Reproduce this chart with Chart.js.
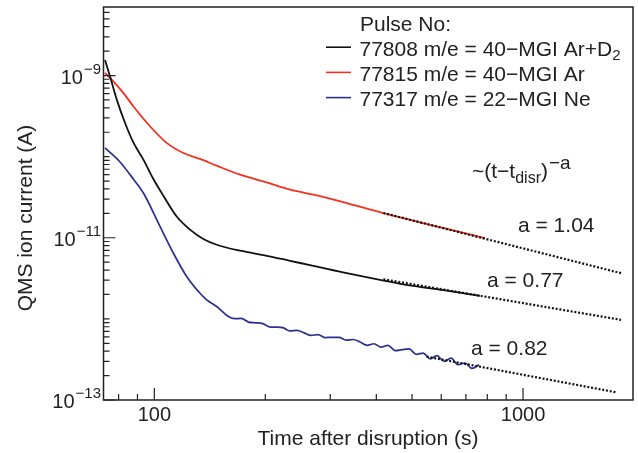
<!DOCTYPE html>
<html>
<head>
<meta charset="utf-8">
<script src="https://cdn.jsdelivr.net/npm/chart.js@4.4.0/dist/chart.umd.min.js"></script>
<style>
  html, body { margin: 0; padding: 0; background: #fff; }
  #wrap { width: 638px; height: 453px; }
</style>
</head>
<body>
<div id="wrap"><canvas id="qms" width="638" height="453"></canvas></div>
<script>
// --- data (time in s, current in A) ---
const pulses = ['77808', '77815', '77317'];
const seriesNames = ['77808 m/e = 40\u2212MGI Ar+D', '77815 m/e = 40\u2212MGI Ar', '77317 m/e = 22\u2212MGI Ne'];

const arD2Time = [73.5, 75.8, 79.1, 83.3, 87.7, 93.4, 99.4, 105.8, 115.0, 125.0, 135.8, 147.6, 170.8, 201.8, 233.3, 270.0, 332.6, 409.4, 504.2, 621.0, 764.4];
const arD2Curr = [1.55e-9, 9.8e-10, 5.05e-10, 2.6e-10, 1.5e-10, 9.2e-11, 5.3e-11, 3.3e-11, 1.83e-11, 1.26e-11, 9.64e-12, 8.2e-12, 6.92e-12, 6.0e-12, 5.2e-12, 4.51e-12, 3.66e-12, 3.03e-12, 2.55e-12, 2.23e-12, 1.92e-12];

const arTime = [73.5, 77.4, 82.4, 87.7, 97.3, 108.0, 119.9, 133.0, 147.6, 170.8, 201.8, 233.3, 270.0, 332.6, 417.9, 788.8];
const arCurr = [1.08e-9, 8.5e-10, 6.12e-10, 4.18e-10, 2.37e-10, 1.48e-10, 1.11e-10, 9.37e-11, 7.74e-11, 6.0e-11, 4.82e-11, 3.92e-11, 3.4e-11, 2.68e-11, 2.02e-11, 9.91e-12];

const neTime = [73.5, 80.7, 87.7, 93.4, 103.6, 112.6, 122.4, 133.0, 138.7, 147.6,
  158, 165, 172, 180, 188, 196, 205, 214, 223, 233, 244, 255, 266, 278, 290, 303, 317, 331, 346, 361,
  378, 394, 412, 430, 450, 470, 491, 513, 536, 560, 584, 611, 638, 666, 696, 727, 760];
const neCurr = [1.28e-10, 8.6e-11, 5.3e-11, 3.56e-11, 1.38e-11, 6.48e-12, 3.33e-12, 2.07e-12, 1.72e-12, 1.42e-12,
  1.086e-12, 1.006e-12, 1.014e-12, 9.13e-13, 8.95e-13, 8.80e-13, 7.99e-13, 7.90e-13, 7.81e-13, 7.11e-13,
  7.21e-13, 6.72e-13, 6.26e-13, 6.40e-13, 5.89e-13, 5.91e-13, 5.91e-13, 5.47e-13, 5.57e-13, 5.20e-13,
  4.72e-13, 4.94e-13, 4.49e-13, 4.72e-13, 4.07e-13, 4.17e-13, 4.26e-13, 3.66e-13, 3.79e-13, 3.22e-13,
  3.53e-13, 3.00e-13, 3.28e-13, 2.73e-13, 2.86e-13, 2.45e-13, 2.71e-13];

// power-law fits ~(t - t_disr)^-a, end points of the dotted lines
const fitArTime = [417.9, 1844];
const fitArCurr = [2.02e-11, 3.66e-12];
const fitArD2Time = [417.9, 1844];
const fitArD2Curr = [3.08e-12, 9.73e-13];
const fitNeTime = [548, 1787];
const fitNeCurr = [3.42e-13, 1.245e-13];
const fitExponents = ['1.04', '0.77', '0.82'];

// axes
const xMajorTicks = [100, 1000];
const xMinorTicks = [80, 90, 200, 300, 400, 500, 600, 700, 800, 900];
const yDecades = [-13, -12, -11, -10, -9];
const yLabelDecades = [-9, -11, -13];

const FONT = "'Liberation Sans', Arial, Helvetica, sans-serif";
const INK = '#222';

const pts = (xs, ys) => xs.map((x, i) => ({ x: x, y: ys[i] }));

function richWidth(ctx, parts) {
    let w = 0;
    parts.forEach(p => {
        ctx.font = p.size + 'px ' + FONT;
        w += ctx.measureText(p.text).width + (p.gap || 0);
    });
    return w;
}

function drawRich(ctx, parts, x, y, align) {
    const w = richWidth(ctx, parts);
    let cx = align === 'right' ? x - w : align === 'center' ? x - w / 2 : x;
    parts.forEach(p => {
        ctx.font = p.size + 'px ' + FONT;
        cx += p.gap || 0;
        ctx.fillText(p.text, cx, y + (p.dy || 0));
        cx += ctx.measureText(p.text).width;
    });
}

const decor = {
    id: 'decor',
    afterDraw(chart) {
        const { ctx, chartArea: a, scales: { x, y } } = chart;
        ctx.save();
        ctx.fillStyle = INK;
        ctx.strokeStyle = INK;
        ctx.textAlign = 'left';
        ctx.textBaseline = 'alphabetic';

        // frame
        ctx.lineWidth = 1.5;
        ctx.strokeRect(a.left, a.top, a.right - a.left, a.bottom - a.top);

        // inward ticks
        ctx.lineWidth = 1.2;
        ctx.beginPath();
        xMajorTicks.forEach(v => {
            const px = x.getPixelForValue(v);
            ctx.moveTo(px, a.bottom); ctx.lineTo(px, a.bottom - 12);
        });
        xMinorTicks.forEach(v => {
            const px = x.getPixelForValue(v);
            ctx.moveTo(px, a.bottom); ctx.lineTo(px, a.bottom - 6);
        });
        yDecades.forEach(d => {
            for (let m = 1; m <= 9; m++) {
                const v = m * Math.pow(10, d);
                if (v > y.max) break;
                const py = y.getPixelForValue(v);
                const len = (m === 1 && yLabelDecades.includes(d)) ? 12 : 6;
                ctx.moveTo(a.left, py); ctx.lineTo(a.left + len, py);
            }
        });
        ctx.stroke();

        // tick labels
        yLabelDecades.forEach(d => {
            const py = y.getPixelForValue(Math.pow(10, d));
            drawRich(ctx, [
                { text: '10', size: 20 },
                { text: '\u2212' + Math.abs(d), size: 15, dy: -10, gap: 1 }
            ], 101, py + 8, 'right');
        });
        ctx.font = '20px ' + FONT;
        ctx.textAlign = 'center';
        xMajorTicks.forEach(v => {
            ctx.fillText(String(v), x.getPixelForValue(v), 420.5);
        });

        // axis titles
        ctx.font = '21px ' + FONT;
        ctx.fillText('Time after disruption (s)', 368, 445);
        ctx.save();
        ctx.translate(31.5, 218);
        ctx.rotate(-Math.PI / 2);
        ctx.fillText('QMS ion current (A)', 0, 0);
        ctx.restore();
        ctx.textAlign = 'left';

        // legend
        ctx.font = '21px ' + FONT;
        ctx.fillText('Pulse No:', 360, 30.5);
        const colors = chart.data.datasets.slice(3).map(ds => ds.borderColor);
        seriesNames.forEach((name, i) => {
            const base = 55.7 + i * 25.2;
            ctx.strokeStyle = colors[i];
            ctx.lineWidth = 1.6;
            ctx.beginPath();
            ctx.moveTo(326, base - 8.5); ctx.lineTo(351, base - 8.5);
            ctx.stroke();
            const parts = [{ text: name, size: 21 }];
            if (i === 0) parts.push({ text: '2', size: 15, dy: 4.5 });
            drawRich(ctx, parts, 359.5, base, 'left');
        });

        // fit annotation
        drawRich(ctx, [
            { text: '~(t\u2212t', size: 21 },
            { text: 'disr', size: 16, dy: 4.5 },
            { text: ')', size: 21 },
            { text: '\u2212a', size: 19, dy: -9, gap: 1 }
        ], 472, 178, 'left');
        const labelPos = [[518, 231.7], [487, 286.7], [471, 355]];
        fitExponents.forEach((a, i) => {
            ctx.font = '21px ' + FONT;
            ctx.fillText('a = ' + a, labelPos[i][0], labelPos[i][1]);
        });

        ctx.restore();
    }
};

const fitStyle = {
    borderColor: '#111',
    borderWidth: 2.2,
    borderDash: [2, 1.8],
    pointRadius: 0,
    fill: false
};

const curveStyle = { pointRadius: 0, cubicInterpolationMode: 'monotone', fill: false };

new Chart(document.getElementById('qms'), {
    type: 'line',
    data: {
        datasets: [
            Object.assign({ label: 'fit Ar', data: pts(fitArTime, fitArCurr) }, fitStyle),
            Object.assign({ label: 'fit Ar+D2', data: pts(fitArD2Time, fitArD2Curr) }, fitStyle),
            Object.assign({ label: 'fit Ne', data: pts(fitNeTime, fitNeCurr) }, fitStyle),
            Object.assign({ label: seriesNames[0], data: pts(arD2Time, arD2Curr), borderColor: '#111111', borderWidth: 1.8 }, curveStyle),
            Object.assign({ label: seriesNames[1], data: pts(arTime, arCurr), borderColor: '#f5301f', borderWidth: 1.8 }, curveStyle),
            Object.assign({ label: seriesNames[2], data: pts(neTime, neCurr), borderColor: '#2b2f8e', borderWidth: 1.7 }, curveStyle)
        ]
    },
    options: {
        responsive: false,
        animation: false,
        layout: { padding: { left: 103.5, top: 7, right: 5, bottom: 53 } },
        plugins: { legend: { display: false }, tooltip: { enabled: false } },
        scales: {
            x: { type: 'logarithmic', min: 72.8, max: 1987, display: false },
            y: { type: 'logarithmic', min: 1e-13, max: 7e-9, display: false }
        }
    },
    plugins: [decor]
});
</script>
</body>
</html>
